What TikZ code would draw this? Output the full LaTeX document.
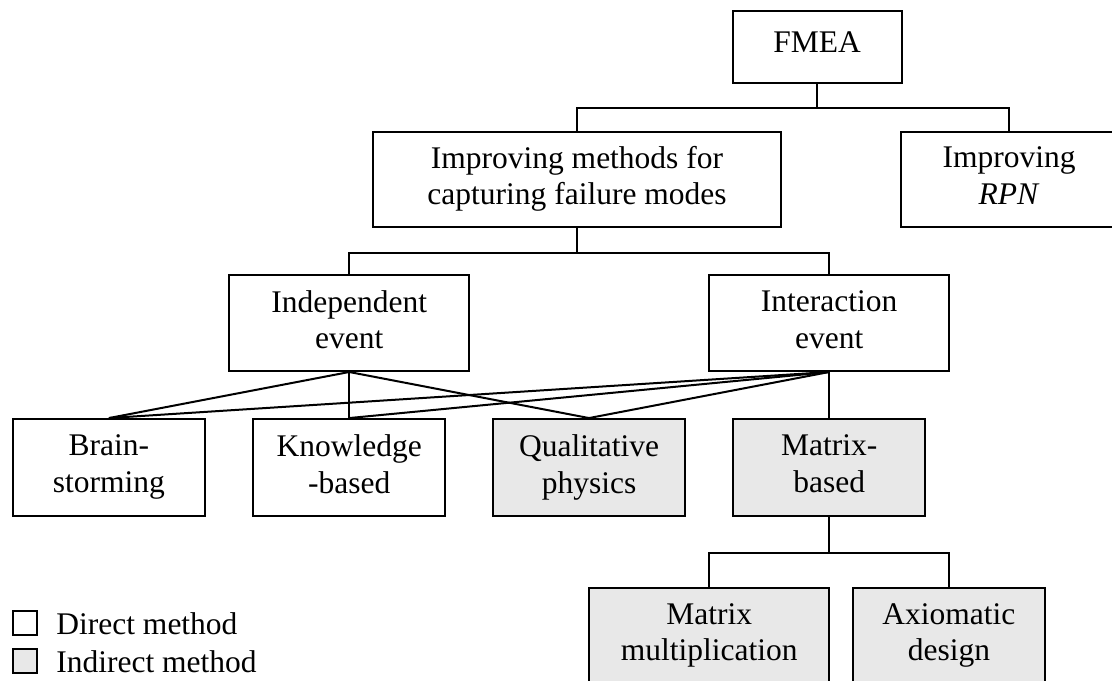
\documentclass[tikz,border=0pt]{standalone}
\usepackage{fontspec}
\setmainfont{Liberation Serif}
\definecolor{indirectfill}{RGB}{232,232,232}
% struts that fix the first baseline and last depth of every box label
\newcommand{\boxstrut}{\vrule height 13.9pt depth 3.6pt width 0pt}
\tikzset{
  lbl/.style={font=\fontsize{15.75pt}{18.3pt}\selectfont, inner sep=0pt},
  box/.style={lbl, draw, line width=1pt, align=center, fill=white,
    execute at begin node=\boxstrut, execute at end node=\boxstrut},
  topbox/.style={lbl, draw, line width=1pt, fill=white, text height=10.5pt, text depth=5pt},
  ibox/.style={box, fill=indirectfill},
  wide/.style={minimum width=120.15pt, minimum height=48pt},
  narrow/.style={minimum width=96.15pt, minimum height=48.35pt},
  link/.style={line width=1pt},
  keybox/.style={draw, line width=1pt, minimum size=12pt, inner sep=0pt},
}
\begin{document}
\begin{tikzpicture}[x=0.5pt, y=-0.5pt]
  \useasboundingbox (0,0) rectangle (1112,680);
  \clip (0,0) rectangle (1112,680);

  % hierarchy boxes
  \node[topbox, minimum width=84.5pt, minimum height=35.85pt] (fmea) at (817.2,46.85) {FMEA};
  \node[box, minimum width=204.15pt, minimum height=47.5pt] (imp) at (577,179.2) {Improving methods for\\capturing failure modes};
  \node[box, minimum width=108pt, minimum height=47.5pt] (rpn) at (1009,179.2) {Improving\\\textit{RPN}};

  \node[box, wide] (indep) at (349.2,323) {Independent\\event};
  \node[box, wide] (inter) at (829.2,323) {Interaction\\event};

  \node[box, narrow] (brain) at (108.9,467.4) {Brain-\\storming};
  \node[box, narrow] (know) at (349.2,467.4) {Knowledge\\-based};
  \node[ibox, narrow] (qual) at (589,467.4) {Qualitative\\physics};
  \node[ibox, narrow] (mbased) at (829.2,467.4) {Matrix-\\based};

  \node[ibox, wide] (mmult) at (709.2,635.7) {Matrix\\multiplication};
  \node[ibox, narrow, minimum height=48pt] (axio) at (948.9,635.7) {Axiomatic\\design};

  % tree connectors
  \draw[link] (fmea.south) -- ++(0,24.6) -| (imp.north);
  \draw[link] (fmea.south) -- ++(0,24.6) -| (rpn.north);
  \draw[link] (imp.south) -- ++(0,25) -| (indep.north);
  \draw[link] (imp.south) -- ++(0,25) -| (inter.north);
  \draw[link] (mbased.south) -- ++(0,36) -| (mmult.north);
  \draw[link] (mbased.south) -- ++(0,36) -| (axio.north);

  % event-to-method links
  \draw[link] (indep.south) -- (brain.north);
  \draw[link] (indep.south) -- (know.north);
  \draw[link] (indep.south) -- (qual.north);
  \draw[link] (inter.south) -- (brain.north);
  \draw[link] (inter.south) -- (know.north);
  \draw[link] (inter.south) -- (qual.north);
  \draw[link] (inter.south) -- (mbased.north);

  % legend
  \node[keybox, fill=white] (kdirect) at (24.7,623) {};
  \node[keybox, fill=indirectfill] (kindirect) at (24.7,661) {};
  \node[lbl, anchor=base west] (tdirect) at (56,634) {Direct method};
  \node[lbl, anchor=base west] (tindirect) at (56,672.7) {Indirect method};
\end{tikzpicture}
\end{document}
